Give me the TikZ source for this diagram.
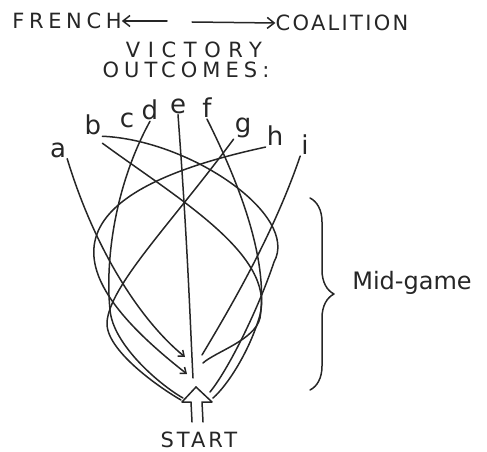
\documentclass[tikz,border=0pt]{standalone}
\usepackage{fontspec}
\setmainfont{DejaVu Sans}
\usetikzlibrary{arrows.meta, decorations.pathreplacing}

\begin{document}
\begin{tikzpicture}[
  x=1pt, y=-1pt,
  stroke/.style={black!85, line width=1.5pt, line cap=round, line join=round},
  flow/.style={stroke, -{Straight Barb[length=5pt, width=8pt]}},
  side/.style={stroke, -{Straight Barb[length=7pt, width=11pt]}},
  caption/.style={inner sep=0pt, text=black!85,
    font=\fontsize{21}{24}\selectfont\addfontfeature{LetterSpace=#1}},
  caption/.default=10,
  outcome/.style={inner sep=1pt, text=black!85, font=\fontsize{26}{28}\selectfont}
]
\useasboundingbox (0,0) rectangle (487,452);

% heading
\node[caption=22] (french) at (67,21) {FRENCH};
\node[caption=11] (coalition) at (342,23) {COALITION};
\node[caption=36] (victory) at (194,50) {VICTORY};
\node[caption=24] (outcomes) at (186,70) {OUTCOMES:};
\coordinate (lft) at (167,21);
\coordinate (rgt) at (192,22);
\draw[side] (lft) -- (french.east);
\draw[side] (rgt) -- (coalition.west);

% outcomes
\node[outcome] (a) at (58,150) {a};
\node[outcome] (b) at (93,125) {b};
\node[outcome] (c) at (127,120) {c};
\node[outcome] (d) at (150,110) {d};
\node[outcome] (e) at (178,106) {e};
\node[outcome] (f) at (207,108) {f};
\node[outcome] (g) at (243,128) {g};
\node[outcome] (h) at (275,136) {h};
\node[outcome] (i) at (305,145) {i};

% start
\coordinate (tip) at (196,387);
\node[caption=14] (start) at (199,440) {START};
\draw[stroke] (tip) -- ++(-14,15) -- ++(9,0) -- ++(1,20);
\draw[stroke] (tip) -- ++(16,15) -- ++(-10,0) -- ++(1,20);

% end points near the start
\coordinate (ea) at (185,357);
\coordinate (eb1) at (210,392);
\coordinate (eb2) at (213,398);
\coordinate (ed) at (183,398);
\coordinate (ee) at (193,378);
\coordinate (ef) at (203,363);
\coordinate (eg) at (181,400);
\coordinate (eh) at (187,374);
\coordinate (ei) at (202,355);

% game paths
\draw[flow] (a.south east) .. controls (95,250) and (140,320) .. (ea);
\draw[stroke] (b.south east) .. controls (190,140) and (300,215) .. (274,262)
  .. controls (258,310) and (228,370) .. (eb1);
\draw[stroke] ([yshift=-7pt]b.south east) .. controls (180,200) and (275,255) .. (260,315)
  .. controls (250,350) and (228,385) .. (eb2);
\draw[stroke] (d.south) .. controls (115,185) and (105,260) .. (110,310)
  .. controls (113,345) and (160,385) .. (ed);
\draw[stroke] (e.south) .. controls (188,250) and (190,320) .. (ee);
\draw[stroke] (f.south) .. controls (245,195) and (268,265) .. (260,318)
  .. controls (255,340) and (215,352) .. (ef);
\draw[stroke] (g.south west) .. controls (170,225) and (110,285) .. (107,322)
  .. controls (105,350) and (160,388) .. (eg);
\draw[flow] (h.south west) .. controls (20,200) and (80,290) .. (eh);
\draw[stroke] (i.south west) .. controls (275,230) and (235,300) .. (ei);

% mid-game brace
\coordinate (mtop) at (310,198);
\coordinate (mbot) at (310,390);
\draw[stroke, decorate, decoration={brace, amplitude=24pt}] (mtop) -- (mbot);
\node[inner sep=0pt, text=black!85, font=\fontsize{24}{28}\selectfont] (midgame) at (412,283) {Mid-game};
\end{tikzpicture}
\end{document}
